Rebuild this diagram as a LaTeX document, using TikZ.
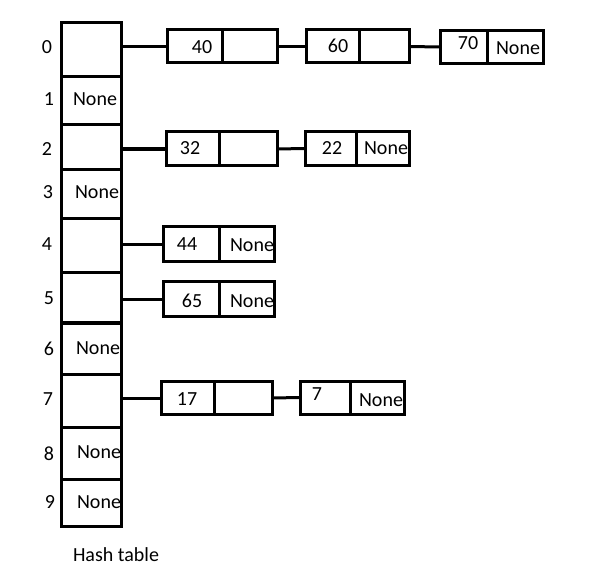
\documentclass[tikz,border=0pt]{standalone}
\usepackage{fontspec}
\setmainfont{Carlito}
\begin{document}
\begin{tikzpicture}[x=1pt,y=-1pt,
  txt/.style={inner sep=0pt,font=\fontsize{20}{24}\selectfont},
  cell/.style={draw,line width=3pt,inner sep=0pt,outer sep=0pt,minimum width=#1},
  hcell/.style={draw,line width=3pt,inner sep=0pt,outer sep=0pt,minimum width=60pt,minimum height=#1},
  link/.style={line width=3pt}]
\useasboundingbox (0,0) rectangle (606,583);
% labels
\node[txt] (i0) at (47,47) {0};
\node[txt] (i1) at (49,99) {1};
\node[txt] (i2) at (47,149) {2};
\node[txt] (i3) at (48,192) {3};
\node[txt] (i4) at (47,244) {4};
\node[txt] (i5) at (49,298) {5};
\node[txt] (i6) at (49,349) {6};
\node[txt] (i7) at (48,399) {7};
\node[txt] (i8) at (49,454) {8};
\node[txt] (i9) at (50,502) {9};
\node[txt] (n1) at (95,99) {None};
\node[txt] (n3) at (97,192) {None};
\node[txt] (n6) at (98,348) {None};
\node[txt] (n8) at (99,452) {None};
\node[txt] (n9) at (99,502) {None};
\node[txt] (cap) at (116,555) {Hash table};
\node[txt] (t40) at (202,47) {40};
\node[txt] (t60) at (338,46) {60};
\node[txt] (t70) at (468,43) {70};
\node[txt] (t70n) at (518,48) {None};
\node[txt] (t32) at (190,148) {32};
\node[txt] (t22) at (332,148) {22};
\node[txt] (t22n) at (386,148) {None};
\node[txt] (t44) at (187,244) {44};
\node[txt] (t44n) at (252,245) {None};
\node[txt] (t65) at (192,301) {65};
\node[txt] (t65n) at (252,301) {None};
\node[txt] (t17) at (187,399) {17};
\node[txt] (t7) at (317,394) {7};
\node[txt] (t7n) at (381,400) {None};
% hash table cells
\node[hcell=54pt] (h0) at (91,50) {};
\node[hcell=48pt] (h1) at (91,101) {};
\node[hcell=45pt] (h2) at (91,147.5) {};
\node[hcell=49pt] (h3) at (91,194.5) {};
\node[hcell=54pt] (h4) at (91,246) {};
\node[hcell=50pt] (h5) at (91,298) {};
\node[hcell=51pt] (h6) at (91,348.5) {};
\node[hcell=53pt] (h7) at (91,400.5) {};
\node[hcell=52pt] (h8) at (91,453) {};
\node[hcell=47pt] (h9) at (91,502.5) {};
% chain boxes
\begin{scope}[every node/.append style={minimum height=33pt}]
\node[cell=55pt] (a40) at (194.5,46.5) {};
\node[cell=55pt] (b40) at (249.5,46.5) {};
\node[cell=53pt] (a60) at (332.5,46.5) {};
\node[cell=50pt] (b60) at (384,46.5) {};
\node[cell=47pt] (a70) at (463.5,47) {};
\node[cell=56pt] (b70) at (515,47) {};
\end{scope}
\begin{scope}[every node/.append style={minimum height=34pt}]
\node[cell=53pt] (a32) at (192.5,149) {};
\node[cell=58pt] (b32) at (248,149) {};
\node[cell=51pt] (a22) at (330.5,148.5) {};
\node[cell=53pt] (b22) at (382.5,148.5) {};
\end{scope}
\begin{scope}[every node/.append style={minimum height=35pt}]
\node[cell=56pt] (a44) at (191,244.5) {};
\node[cell=55pt] (b44) at (246.5,244.5) {};
\node[cell=56pt] (a65) at (191,299.5) {};
\node[cell=55pt] (b65) at (246.5,299.5) {};
\end{scope}
\begin{scope}[every node/.append style={minimum height=33pt}]
\node[cell=53pt] (a17) at (187.5,398) {};
\node[cell=58pt] (b17) at (243,398) {};
\node[cell=50pt] (a7) at (325,397.5) {};
\node[cell=54pt] (b7) at (377,397.5) {};
\end{scope}
% connectors
\draw[link] (h0.east |- a40.west) -- (a40.west);
\draw[link] (b40.east) -- (a60.west);
\draw[link] (b60.east) -- (a70.west);
\draw[link,line width=4pt] (h2.east |- a32.west) -- (a32.west);
\draw[link] (b32.east) -- (a22.west);
\draw[link] (h4.east |- a44.west) -- (a44.west);
\draw[link] (h5.east |- a65.west) -- (a65.west);
\draw[link] (h7.east |- a17.west) -- (a17.west);
\draw[link] (b17.east) -- (a7.west);
\end{tikzpicture}
\end{document}
